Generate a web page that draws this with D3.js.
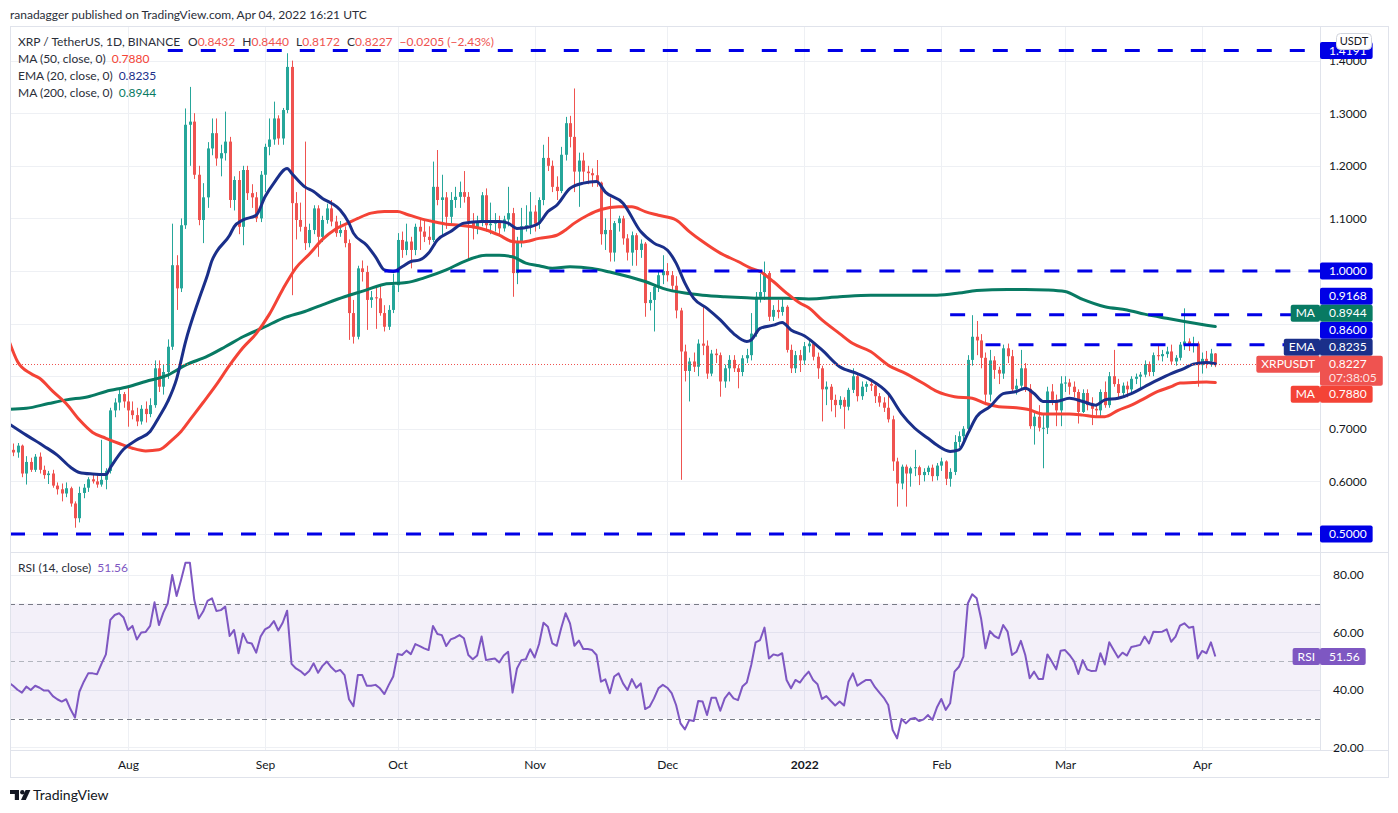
<!DOCTYPE html>
<html>
<head>
<meta charset="utf-8">
<script src="https://cdn.jsdelivr.net/npm/d3@7"></script>
<style>
  html, body { margin: 0; padding: 0; background: #ffffff; }
  svg text { font-family: Lato, "Noto Sans", sans-serif; }
</style>
</head>
<body>
<svg id="chart"></svg>
<script>
// XRP / TetherUS, 1D, BINANCE  --  daily candles [open, high, low, close]
var jul21 = [ // Jul 5 - Jul 31
  [0.670,0.682,0.652,0.660],[0.660,0.672,0.648,0.655],[0.655,0.673,0.645,0.668],[0.668,0.670,0.608,0.615],
  [0.615,0.648,0.594,0.637],[0.637,0.645,0.618,0.622],[0.622,0.652,0.618,0.647],[0.647,0.655,0.615,0.622],
  [0.622,0.630,0.605,0.612],[0.612,0.620,0.595,0.615],[0.615,0.622,0.588,0.592],[0.592,0.598,0.575,0.585],
  [0.585,0.596,0.562,0.577],[0.577,0.598,0.570,0.587],[0.587,0.590,0.552,0.558],[0.558,0.562,0.512,0.530],
  [0.530,0.590,0.522,0.578],[0.578,0.595,0.568,0.588],[0.588,0.608,0.580,0.604],[0.604,0.615,0.596,0.600],
  [0.600,0.612,0.588,0.594],[0.594,0.679,0.590,0.603],[0.603,0.625,0.585,0.620],[0.620,0.740,0.615,0.735],
  [0.735,0.758,0.722,0.750],[0.750,0.778,0.735,0.766],[0.766,0.770,0.740,0.752]
];
var aug21 = [
  [0.752,0.780,0.704,0.735],[0.735,0.752,0.718,0.726],[0.726,0.740,0.705,0.714],[0.714,0.745,0.708,0.738],
  [0.738,0.752,0.712,0.728],[0.728,0.758,0.722,0.745],[0.745,0.830,0.740,0.815],[0.815,0.830,0.770,0.780],
  [0.780,0.822,0.765,0.808],[0.808,0.870,0.795,0.856],[0.856,1.090,0.850,1.011],[1.011,1.030,0.926,0.967],
  [0.967,1.100,0.960,1.087],[1.087,1.309,1.080,1.278],[1.278,1.350,1.200,1.284],[1.284,1.300,1.175,1.183],
  [1.183,1.200,1.087,1.097],[1.097,1.167,1.053,1.140],[1.140,1.245,1.120,1.233],[1.233,1.290,1.220,1.262],
  [1.262,1.290,1.200,1.214],[1.214,1.240,1.180,1.224],[1.224,1.303,1.210,1.246],[1.246,1.255,1.120,1.135],
  [1.135,1.180,1.115,1.173],[1.173,1.190,1.070,1.084],[1.084,1.200,1.049,1.192],[1.192,1.200,1.135,1.148],
  [1.148,1.165,1.120,1.140],[1.140,1.150,1.093,1.100],[1.100,1.190,1.093,1.183]
];
var sep21 = [
  [1.183,1.242,1.150,1.236],[1.236,1.290,1.220,1.250],[1.250,1.322,1.240,1.290],[1.290,1.296,1.240,1.252],
  [1.252,1.310,1.240,1.306],[1.306,1.414,1.300,1.388],[1.388,1.400,0.954,1.129],[1.129,1.150,1.060,1.097],
  [1.097,1.130,1.075,1.084],[1.084,1.246,1.040,1.053],[1.053,1.090,1.045,1.078],[1.078,1.125,1.070,1.119],
  [1.119,1.125,1.027,1.065],[1.065,1.105,1.055,1.097],[1.097,1.128,1.090,1.119],[1.119,1.135,1.085,1.094],
  [1.094,1.105,1.065,1.072],[1.072,1.095,1.065,1.078],[1.078,1.085,1.045,1.053],[1.053,1.060,0.869,0.920],
  [0.920,0.945,0.862,0.875],[0.875,1.010,0.870,1.005],[1.005,1.020,0.980,0.998],[0.998,1.010,0.888,0.945],
  [0.945,0.962,0.930,0.950],[0.950,0.970,0.890,0.948],[0.948,0.975,0.915,0.920],[0.920,0.935,0.885,0.894],
  [0.894,0.935,0.888,0.926],[0.926,0.995,0.920,0.973]
];
var oct21 = [
  [0.973,1.072,0.960,1.059],[1.059,1.075,1.025,1.040],[1.040,1.090,1.030,1.056],[1.056,1.065,1.005,1.040],
  [1.040,1.090,1.030,1.084],[1.084,1.100,1.040,1.075],[1.075,1.095,1.055,1.065],[1.065,1.085,1.050,1.059],
  [1.059,1.208,1.055,1.160],[1.160,1.230,1.125,1.135],[1.135,1.183,1.065,1.140],[1.140,1.150,1.080,1.103],
  [1.103,1.150,1.090,1.135],[1.135,1.160,1.120,1.141],[1.141,1.170,1.120,1.150],[1.150,1.190,1.130,1.141],
  [1.141,1.150,1.021,1.094],[1.094,1.110,1.060,1.081],[1.081,1.105,1.070,1.094],[1.094,1.150,1.085,1.144],
  [1.144,1.157,1.075,1.087],[1.087,1.130,1.070,1.090],[1.090,1.110,1.075,1.092],[1.092,1.105,1.070,1.081],
  [1.081,1.105,1.075,1.098],[1.098,1.160,1.085,1.110],[1.110,1.120,0.951,0.996],[0.996,1.065,0.975,1.056],
  [1.056,1.120,1.045,1.085],[1.085,1.125,1.075,1.087],[1.087,1.150,1.070,1.113]
];
var nov21 = [
  [1.113,1.125,1.075,1.090],[1.090,1.140,1.080,1.135],[1.135,1.240,1.125,1.215],[1.215,1.255,1.190,1.200],
  [1.200,1.210,1.150,1.160],[1.160,1.180,1.135,1.152],[1.152,1.236,1.148,1.221],[1.221,1.293,1.210,1.281],
  [1.281,1.295,1.235,1.255],[1.255,1.347,1.150,1.189],[1.189,1.225,1.122,1.210],[1.210,1.225,1.170,1.189],
  [1.189,1.200,1.165,1.186],[1.186,1.195,1.160,1.182],[1.182,1.211,1.160,1.168],[1.168,1.170,1.050,1.070],
  [1.070,1.100,1.040,1.078],[1.078,1.140,1.018,1.035],[1.035,1.095,1.018,1.091],[1.091,1.105,1.075,1.100],
  [1.100,1.105,1.050,1.062],[1.062,1.070,1.020,1.035],[1.035,1.075,1.010,1.068],[1.068,1.072,1.010,1.040],
  [1.040,1.060,1.025,1.052],[1.052,1.055,0.913,0.939],[0.939,0.960,0.925,0.945],[0.945,0.975,0.885,0.970],
  [0.970,1.000,0.960,0.992],[0.992,1.030,0.975,1.000]
];
var dec21 = [
  [1.000,1.015,0.980,0.992],[0.992,1.000,0.960,0.972],[0.972,0.990,0.910,0.925],[0.925,0.930,0.603,0.847],
  [0.847,0.860,0.790,0.810],[0.810,0.835,0.752,0.828],[0.828,0.845,0.808,0.818],[0.818,0.870,0.800,0.862],
  [0.862,0.935,0.840,0.858],[0.858,0.868,0.795,0.805],[0.805,0.850,0.800,0.843],[0.843,0.852,0.825,0.840],
  [0.840,0.845,0.761,0.790],[0.790,0.822,0.778,0.815],[0.815,0.840,0.790,0.831],[0.831,0.840,0.808,0.815],
  [0.815,0.822,0.777,0.808],[0.808,0.840,0.800,0.834],[0.834,0.852,0.825,0.840],[0.840,0.920,0.830,0.881],
  [0.881,0.960,0.875,0.951],[0.951,0.995,0.940,0.960],[0.960,1.018,0.945,0.996],[0.996,1.000,0.905,0.913],
  [0.913,0.935,0.905,0.926],[0.926,0.945,0.910,0.922],[0.922,0.950,0.915,0.932],[0.932,0.935,0.845,0.850],
  [0.850,0.860,0.806,0.815],[0.815,0.848,0.806,0.840],[0.840,0.850,0.808,0.830]
];
var jan22 = [
  [0.830,0.865,0.822,0.857],[0.857,0.872,0.845,0.862],[0.862,0.866,0.830,0.837],[0.837,0.845,0.795,0.815],
  [0.815,0.820,0.714,0.775],[0.775,0.790,0.745,0.780],[0.780,0.785,0.733,0.755],[0.755,0.765,0.722,0.745],
  [0.745,0.762,0.738,0.755],[0.755,0.760,0.700,0.742],[0.742,0.778,0.735,0.774],[0.774,0.815,0.768,0.800],
  [0.800,0.805,0.752,0.762],[0.762,0.790,0.755,0.780],[0.780,0.790,0.770,0.785],[0.785,0.792,0.772,0.782],
  [0.782,0.785,0.749,0.762],[0.762,0.768,0.742,0.750],[0.750,0.760,0.732,0.740],[0.740,0.770,0.712,0.718],
  [0.718,0.725,0.620,0.638],[0.638,0.645,0.552,0.596],[0.596,0.632,0.585,0.628],[0.628,0.632,0.552,0.615],
  [0.615,0.628,0.590,0.625],[0.625,0.660,0.610,0.627],[0.627,0.630,0.593,0.612],[0.612,0.625,0.600,0.618],
  [0.618,0.630,0.612,0.626],[0.626,0.632,0.600,0.610],[0.610,0.635,0.602,0.630]
];
var feb22 = [
  [0.630,0.645,0.620,0.638],[0.638,0.640,0.593,0.605],[0.605,0.625,0.590,0.618],[0.618,0.688,0.612,0.675],
  [0.675,0.695,0.665,0.686],[0.686,0.705,0.675,0.700],[0.700,0.840,0.695,0.831],[0.831,0.916,0.820,0.875],
  [0.875,0.905,0.840,0.868],[0.868,0.880,0.815,0.835],[0.835,0.845,0.745,0.765],[0.765,0.850,0.752,0.830],
  [0.830,0.838,0.795,0.812],[0.812,0.818,0.785,0.805],[0.805,0.860,0.795,0.853],[0.853,0.862,0.825,0.838],
  [0.838,0.850,0.770,0.775],[0.775,0.795,0.765,0.782],[0.782,0.850,0.775,0.815],[0.815,0.825,0.770,0.776],
  [0.776,0.785,0.700,0.705],[0.705,0.730,0.670,0.723],[0.723,0.745,0.695,0.702],[0.702,0.730,0.625,0.702],
  [0.702,0.780,0.690,0.771],[0.771,0.785,0.745,0.755],[0.755,0.765,0.705,0.735],[0.735,0.800,0.705,0.786]
];
var mar22 = [
  [0.786,0.800,0.770,0.788],[0.788,0.795,0.765,0.780],[0.780,0.790,0.760,0.770],[0.770,0.775,0.710,0.732],
  [0.732,0.775,0.730,0.768],[0.768,0.775,0.735,0.745],[0.745,0.760,0.707,0.738],[0.738,0.748,0.725,0.735],
  [0.735,0.775,0.723,0.770],[0.770,0.790,0.740,0.745],[0.745,0.808,0.740,0.800],[0.800,0.850,0.780,0.785],
  [0.785,0.795,0.760,0.768],[0.768,0.788,0.760,0.782],[0.782,0.790,0.760,0.775],[0.775,0.800,0.765,0.795],
  [0.795,0.805,0.785,0.799],[0.799,0.808,0.775,0.803],[0.803,0.830,0.798,0.823],[0.823,0.828,0.800,0.808],
  [0.808,0.845,0.800,0.840],[0.840,0.858,0.830,0.838],[0.838,0.850,0.828,0.842],[0.842,0.856,0.835,0.847],
  [0.847,0.860,0.823,0.828],[0.828,0.840,0.820,0.835],[0.835,0.865,0.830,0.860],[0.860,0.929,0.850,0.866],
  [0.866,0.872,0.848,0.860],[0.860,0.875,0.845,0.862],[0.862,0.866,0.780,0.821]
];
var apr22 = [
  [0.821,0.845,0.805,0.833],[0.833,0.848,0.815,0.828],[0.828,0.852,0.818,0.8432],[0.8432,0.8440,0.8172,0.8227]
];

// RSI (14, close), one value per candle
var rsi14 = [
  42.5,41.4,40.0,39.0,41.1,39.9,41.4,40.7,39.7,39.7,37.8,36.7,35.9,36.7,33.2,30.3,39.3,42.8,45.7,45.7,
  45.4,49.0,52.3,64.3,66.0,66.6,65.1,
  60.8,62.2,57.5,59.9,60.1,62.2,70.4,62.5,66.8,70.1,79.9,72.6,78.2,84.2,84.2,71.2,64.8,67.2,70.9,71.8,
  67.4,67.7,68.9,58.7,60.8,52.7,59.6,56.4,56.1,52.9,58.5,
  61.0,61.9,63.9,60.6,63.3,67.5,49.0,47.4,46.5,45.1,46.5,49.2,45.9,48.3,49.8,47.8,46.3,46.9,45.1,36.7,
  34.3,45.1,45.1,41.4,41.4,41.7,40.5,38.5,41.7,44.6,
  52.4,52.1,53.6,52.4,55.9,55.2,54.4,53.8,62.2,59.4,59.0,55.2,57.5,58.1,59.0,57.9,52.1,50.6,51.9,58.5,
  50.3,50.6,50.9,49.5,51.9,53.2,39.0,47.4,50.3,50.6,54.1,
  51.2,55.9,63.3,61.9,56.1,55.3,61.4,66.6,63.1,55.3,57.1,54.2,54.2,53.8,52.1,42.8,43.6,38.8,44.6,45.7,
  42.2,39.9,43.7,40.7,42.2,33.3,34.1,37.0,40.5,41.7,
  40.7,38.8,34.7,28.3,26.2,29.5,29.1,36.1,35.9,31.2,37.2,37.2,32.7,37.0,39.0,37.0,36.4,41.1,42.5,48.6,
  56.5,57.3,61.6,50.9,52.3,51.9,52.7,43.4,40.5,43.4,42.5,
  44.6,46.3,43.4,41.9,36.8,37.8,36.1,34.5,35.9,34.5,42.8,45.7,41.4,42.5,43.4,43.4,40.9,39.0,37.2,34.7,
  26.0,23.1,29.8,28.3,29.8,30.2,29.1,29.7,31.2,29.5,33.8,
  36.8,33.0,35.3,46.3,48.0,51.5,70.0,73.2,71.8,64.8,54.4,60.4,58.7,57.9,62.5,60.2,52.1,53.2,57.0,52.1,
  44.0,46.3,43.7,43.7,52.3,49.8,47.1,53.6,
  53.8,52.1,50.0,45.5,50.3,47.1,46.5,46.6,52.7,48.8,56.5,53.8,51.2,52.9,51.9,54.9,55.2,55.6,58.5,56.1,
  60.2,60.1,60.2,61.0,56.7,58.5,62.3,63.1,61.6,61.9,50.9,
  53.5,52.7,56.5,51.56
];

// moving averages: [candle index, value]
var ema20 = [[0,0.710],[4,0.688],[8,0.667],[11,0.650],[14,0.627],[16,0.617],[19,0.614],[22,0.613],[23,0.626],
  [26,0.661],[29,0.679],[32,0.695],[34,0.722],[36,0.752],[38,0.795],[40,0.865],[43,0.945],[45,0.993],[46,1.020],
  [47,1.036],[50,1.068],[51,1.084],[53,1.097],[56,1.106],[58,1.141],[60,1.167],[63,1.195],[64,1.186],[67,1.160],
  [69,1.151],[71,1.138],[73,1.129],[75,1.116],[77,1.091],[78,1.072],[81,1.049],[83,1.027],[85,1.002],[87,0.999],
  [89,1.008],[91,1.018],[93,1.021],[95,1.034],[97,1.059],[100,1.075],[103,1.091],[107,1.094],[111,1.094],
  [113,1.091],[115,1.081],[118,1.084],[120,1.091],[122,1.113],[124,1.125],[127,1.157],[130,1.167],[133,1.170],
  [135,1.150],[139,1.129],[143,1.075],[146,1.053],[149,1.040],[151,1.015],[153,0.977],[155,0.948],[158,0.929],
  [161,0.907],[164,0.881],[167,0.866],[168,0.869],[170,0.891],[173,0.897],[175,0.902],[177,0.888],[180,0.877],
  [184,0.850],[188,0.818],[192,0.805],[195,0.793],[199,0.767],[202,0.729],[205,0.701],[208,0.682],[210,0.669],
  [213,0.657],[215,0.660],[217,0.691],[219,0.723],[222,0.742],[225,0.767],[228,0.771],[230,0.777],[232,0.767],
  [234,0.752],[237,0.752],[240,0.758],[243,0.752],[246,0.745],[248,0.755],[251,0.758],[254,0.767],[257,0.780],
  [260,0.793],[263,0.805],[266,0.815],[268,0.823],[271,0.826],[273,0.8235]];
var ma50 = [[0,0.869],[2,0.828],[5,0.805],[7,0.796],[10,0.771],[13,0.748],[16,0.717],[19,0.693],[22,0.682],
  [25,0.672],[28,0.663],[31,0.658],[34,0.660],[37,0.679],[39,0.695],[41,0.717],[44,0.750],[47,0.784],[50,0.821],
  [53,0.854],[56,0.881],[59,0.918],[62,0.965],[65,1.006],[68,1.032],[71,1.060],[74,1.080],[77,1.092],[79,1.100],
  [82,1.110],[85,1.113],[88,1.113],[90,1.108],[93,1.100],[96,1.094],[99,1.089],[102,1.087],[105,1.084],
  [108,1.078],[111,1.068],[114,1.056],[116,1.055],[120,1.062],[124,1.068],[126,1.078],[128,1.091],[131,1.106],
  [134,1.117],[138,1.122],[141,1.122],[144,1.113],[147,1.106],[151,1.097],[154,1.075],[157,1.056],[161,1.034],
  [165,1.018],[168,1.005],[170,0.999],[173,0.980],[176,0.958],[179,0.939],[181,0.930],[184,0.907],[188,0.881],
  [191,0.862],[195,0.847],[199,0.821],[203,0.805],[207,0.786],[210,0.771],[214,0.761],[218,0.758],[221,0.748],
  [224,0.742],[228,0.740],[231,0.736],[234,0.728],[237,0.728],[240,0.728],[243,0.726],[246,0.723],[248,0.723],
  [251,0.735],[254,0.745],[257,0.758],[260,0.771],[263,0.780],[265,0.787],[268,0.788],[271,0.789],[273,0.7880]];
var ma200 = [[0,0.737],[4,0.739],[9,0.748],[13,0.755],[18,0.761],[22,0.771],[27,0.780],[31,0.790],[36,0.802],
  [40,0.821],[45,0.838],[49,0.856],[53,0.875],[58,0.894],[62,0.910],[67,0.923],[72,0.939],[76,0.951],[81,0.964],
  [85,0.975],[90,0.978],[94,0.987],[99,1.002],[103,1.018],[108,1.030],[111,1.030],[114,1.027],[117,1.015],
  [120,1.010],[123,1.005],[127,1.008],[132,1.005],[136,0.998],[139,0.992],[144,0.980],[148,0.967],[153,0.958],
  [157,0.954],[162,0.951],[167,0.949],[171,0.948],[176,0.948],[181,0.947],[188,0.951],[195,0.954],[203,0.954],
  [210,0.954],[215,0.958],[219,0.963],[226,0.965],[230,0.965],[235,0.964],[239,0.961],[243,0.946],[248,0.932],
  [253,0.926],[257,0.918],[262,0.910],[266,0.904],[271,0.897],[273,0.8944]];

// horizontal levels drawn by the author
var levelValues = [1.4191, 1.0000, 0.9168, 0.8600, 0.5000];
var levelStarts = ["2021-08-10", "2021-09-28", "2022-02-03", "2022-02-11", "2021-07-05"];

var monthTicks = ["2021-08-01","2021-09-01","2021-10-01","2021-11-01","2021-12-01","2022-01-01","2022-02-01","2022-03-01","2022-04-01"];
var monthNames = ["Aug","Sep","Oct","Nov","Dec","2022","Feb","Mar","Apr"];
var priceTicks = [0.5,0.6,0.7,0.8,0.9,1.0,1.1,1.2,1.3,1.4];
var rsiTicks = [20,40,60,80];

var W = 1398, H = 813;
var plotLeft = 10, plotRight = 1320, plotTop = 27, mainBottom = 552, rsiBottom = 750, frameRight = 1388, frameBottom = 778;
var upColor = "#26a69a", downColor = "#ef5350";
var ma50Color = "#f44336", emaColor = "#1a2f8a", ma200Color = "#087a63", rsiColor = "#7e57c2", levelColor = "#0000e6";

var DAY = 864e5;
var start = Date.UTC(2021, 6, 5);
var parseDay = d3.utcParse("%Y-%m-%d");
function dateOf(i) { return new Date(start + i * DAY); }

var candles = [].concat(jul21, aug21, sep21, oct21, nov21, dec21, jan22, feb22, mar22, apr22)
  .map(function(r, i) { return {date: dateOf(i), o: r[0], h: r[1], l: r[2], c: r[3]}; });

var x = d3.scaleUtc()
  .domain([new Date(Date.UTC(2021,6,5,7,16)), new Date(Date.UTC(2022,3,27,16,20))])
  .range([plotLeft, plotRight]);
var y = d3.scaleLinear().domain([0.5, 1.0]).range([534, 271]);
var yR = d3.scaleLinear().domain([30, 70]).range([718.5, 603.5]);

var svg = d3.select("#chart").attr("width", W).attr("height", H)
  .style("display", "block").style("background", "#fff");

svg.append("text").attr("x", 10).attr("y", 19).attr("font-size", 12).attr("fill", "#2a2e39")
  .text("ranadagger published on TradingView.com, Apr 04, 2022 16:21 UTC");

var defs = svg.append("defs");
defs.append("clipPath").attr("id", "clipMain").append("rect")
  .attr("x", plotLeft).attr("y", plotTop).attr("width", plotRight - plotLeft).attr("height", mainBottom - plotTop);
defs.append("clipPath").attr("id", "clipRsi").append("rect")
  .attr("x", plotLeft).attr("y", mainBottom).attr("width", plotRight - plotLeft).attr("height", rsiBottom - mainBottom);

// grid
var grid = svg.append("g").attr("stroke", "#eef0f4").attr("stroke-width", 1);
grid.selectAll(".vg").data(monthTicks).enter().append("line")
  .attr("x1", function(d) { return Math.round(x(parseDay(d))) + 0.5; })
  .attr("x2", function(d) { return Math.round(x(parseDay(d))) + 0.5; })
  .attr("y1", plotTop).attr("y2", rsiBottom);
grid.selectAll(".hg").data(priceTicks).enter().append("line")
  .attr("x1", plotLeft).attr("x2", plotRight)
  .attr("y1", function(d) { return Math.round(y(d)) + 0.5; })
  .attr("y2", function(d) { return Math.round(y(d)) + 0.5; });
grid.selectAll(".rg").data(rsiTicks).enter().append("line")
  .attr("x1", plotLeft).attr("x2", plotRight)
  .attr("y1", function(d) { return Math.round(yR(d)) + 0.5; })
  .attr("y2", function(d) { return Math.round(yR(d)) + 0.5; });

// main pane
var main = svg.append("g").attr("clip-path", "url(#clipMain)");

var candle = main.append("g").selectAll("g").data(candles).enter().append("g")
  .attr("fill", function(d) { return d.c >= d.o ? upColor : downColor; })
  .attr("stroke", function(d) { return d.c >= d.o ? upColor : downColor; });
candle.append("line")
  .attr("x1", function(d) { return Math.round(x(d.date)) + 0.5; })
  .attr("x2", function(d) { return Math.round(x(d.date)) + 0.5; })
  .attr("y1", function(d) { return y(d.h); })
  .attr("y2", function(d) { return y(d.l); })
  .attr("stroke-width", 1);
candle.append("rect")
  .attr("stroke", "none")
  .attr("x", function(d) { return Math.round(x(d.date)) - 1; })
  .attr("width", 3)
  .attr("y", function(d) { return y(Math.max(d.o, d.c)); })
  .attr("height", function(d) { return Math.max(1, Math.abs(y(d.o) - y(d.c))); });

var maLine = d3.line()
  .x(function(d) { return x(dateOf(d[0])); })
  .y(function(d) { return y(d[1]); })
  .curve(d3.curveMonotoneX);
[[ma200, ma200Color], [ma50, ma50Color], [ema20, emaColor]].forEach(function(s) {
  main.append("path").datum(s[0]).attr("d", maLine)
    .attr("fill", "none").attr("stroke", s[1]).attr("stroke-width", 3)
    .attr("stroke-linejoin", "round").attr("stroke-linecap", "round");
});

var lastClose = candles[candles.length - 1].c;
main.append("line").attr("x1", plotLeft).attr("x2", plotRight)
  .attr("y1", Math.round(y(lastClose)) + 0.5).attr("y2", Math.round(y(lastClose)) + 0.5)
  .attr("stroke", downColor).attr("stroke-width", 1).attr("stroke-dasharray", "1,2");

main.selectAll(".lvl").data(levelValues).enter().append("line")
  .attr("x1", function(d, i) { return Math.max(plotLeft, x(parseDay(levelStarts[i]))); })
  .attr("x2", plotRight)
  .attr("y1", function(d) { return y(d); }).attr("y2", function(d) { return y(d); })
  .attr("stroke", levelColor).attr("stroke-width", 3).attr("stroke-dasharray", "15,18");

// legend
var legend = svg.append("g").attr("font-size", 12).attr("fill", "#2a2e39");
var l1 = legend.append("text").attr("x", 18).attr("y", 46);
var last = candles[candles.length - 1], prev = candles[candles.length - 2];
var chg = last.c - prev.c;
l1.append("tspan").text("XRP / TetherUS, 1D, BINANCE");
[["O", last.o], ["H", last.h], ["L", last.l], ["C", last.c]].forEach(function(p, i) {
  l1.append("tspan").attr("dx", i === 0 ? 8 : 7).text(p[0]);
  l1.append("tspan").attr("fill", downColor).text(d3.format(".4f")(p[1]));
});
l1.append("tspan").attr("dx", 7).attr("fill", downColor)
  .text("\u2212" + d3.format(".4f")(Math.abs(chg)) + " (\u2212" + d3.format(".2f")(Math.abs(chg / prev.c * 100)) + "%)");
[["MA (50, close, 0)", ma50, ma50Color], ["EMA (20, close, 0)", ema20, emaColor], ["MA (200, close, 0)", ma200, ma200Color]]
  .forEach(function(s, i) {
    var t = legend.append("text").attr("x", 18).attr("y", 63 + i * 17);
    t.append("tspan").text(s[0]);
    t.append("tspan").attr("dx", 6).attr("fill", s[2]).text(d3.format(".4f")(s[1][s[1].length - 1][1]));
  });

// RSI pane
var rsiG = svg.append("g").attr("clip-path", "url(#clipRsi)");
rsiG.append("rect").attr("x", plotLeft).attr("width", plotRight - plotLeft)
  .attr("y", yR(70)).attr("height", yR(30) - yR(70)).attr("fill", "rgba(126,87,194,0.09)");
[[70, "#787b86"], [50, "#b2b5be"], [30, "#787b86"]].forEach(function(b) {
  rsiG.append("line").attr("x1", plotLeft).attr("x2", plotRight)
    .attr("y1", Math.round(yR(b[0])) + 0.5).attr("y2", Math.round(yR(b[0])) + 0.5)
    .attr("stroke", b[1]).attr("stroke-width", 1).attr("stroke-dasharray", "5,4");
});
rsiG.append("path").datum(rsi14)
  .attr("d", d3.line().x(function(d, i) { return x(dateOf(i)); }).y(function(d) { return yR(d); }))
  .attr("fill", "none").attr("stroke", rsiColor).attr("stroke-width", 2).attr("stroke-linejoin", "round");
var rl = svg.append("text").attr("x", 18).attr("y", 572).attr("font-size", 12).attr("fill", "#2a2e39");
rl.append("tspan").text("RSI (14, close)");
rl.append("tspan").attr("dx", 6).attr("fill", rsiColor).text(d3.format(".2f")(rsi14[rsi14.length - 1]));

// frame and separators
var frame = svg.append("g").attr("fill", "none").attr("stroke", "#e0e3eb").attr("stroke-width", 1);
frame.append("rect").attr("x", plotLeft + 0.5).attr("y", plotTop - 0.5).attr("width", frameRight - plotLeft).attr("height", frameBottom - plotTop);
frame.append("line").attr("x1", plotLeft).attr("x2", frameRight).attr("y1", mainBottom + 0.5).attr("y2", mainBottom + 0.5);
frame.append("line").attr("x1", plotLeft).attr("x2", frameRight).attr("y1", rsiBottom + 0.5).attr("y2", rsiBottom + 0.5);
frame.append("line").attr("x1", plotRight + 0.5).attr("x2", plotRight + 0.5).attr("y1", plotTop).attr("y2", rsiBottom);

// price scale labels with overlap handling (last price label stays put)
var labels = levelValues.map(function(v) { return {value: v, color: levelColor, text: d3.format(".4f")(v)}; });
labels.push({value: ma200[ma200.length - 1][1], color: ma200Color, text: d3.format(".4f")(ma200[ma200.length - 1][1]), tag: "MA"});
labels.push({value: ema20[ema20.length - 1][1], color: emaColor, text: d3.format(".4f")(ema20[ema20.length - 1][1]), tag: "EMA"});
labels.push({value: ma50[ma50.length - 1][1], color: ma50Color, text: d3.format(".4f")(ma50[ma50.length - 1][1]), tag: "MA"});
var priceLabel = {value: lastClose, color: downColor, text: d3.format(".4f")(lastClose), tag: "XRPUSDT", sub: "07:38:05"};

var lh = 17;
priceLabel.cy = y(priceLabel.value);
var pTop = priceLabel.cy - lh / 2, pBottom = pTop + 30;
var above = labels.filter(function(l) { return y(l.value) <= priceLabel.cy; })
  .sort(function(a, b) { return y(b.value) - y(a.value); });
var below = labels.filter(function(l) { return y(l.value) > priceLabel.cy; })
  .sort(function(a, b) { return y(a.value) - y(b.value); });
var cur = pTop;
above.forEach(function(l) { l.cy = Math.min(y(l.value), cur - lh / 2); cur = l.cy - lh / 2; });
cur = pBottom;
below.forEach(function(l) { l.cy = Math.max(y(l.value), cur + lh / 2); cur = l.cy + lh / 2; });

// axes (tick labels dropped where their centre sits under a scale label box)
var boxes = labels.map(function(l) { return [l.cy - lh / 2, l.cy + lh / 2]; }).concat([[pTop, pBottom]]);
var freeTicks = priceTicks.filter(function(v) {
  return boxes.every(function(b) { return y(v) < b[0] - 1 || y(v) > b[1] + 1; });
});
var priceAxis = svg.append("g").attr("transform", "translate(" + plotRight + ",0)")
  .call(d3.axisRight(y).tickValues(freeTicks).tickFormat(d3.format(".4f")).tickSize(0).tickPadding(9));
var rsiAxis = svg.append("g").attr("transform", "translate(" + plotRight + ",0)")
  .call(d3.axisRight(yR).tickValues(rsiTicks).tickFormat(d3.format(".2f")).tickSize(0).tickPadding(13));
var timeAxis = svg.append("g").attr("transform", "translate(0," + rsiBottom + ")")
  .call(d3.axisBottom(x).tickValues(monthTicks.map(parseDay))
    .tickFormat(function(d, i) { return monthNames[i]; }).tickSize(0).tickPadding(10));
[priceAxis, rsiAxis, timeAxis].forEach(function(a) {
  a.select(".domain").remove();
  a.selectAll("text").attr("font-size", 12).attr("fill", "#131722").style("font-family", "Lato, 'Noto Sans', sans-serif");
});
timeAxis.selectAll("text").filter(function(d, i) { return monthNames[i] === "2022"; }).attr("font-weight", "bold");

var lab = svg.append("g").attr("font-size", 12);
function drawLabel(l, h) {
  var g = lab.append("g");
  var box = g.append("rect").attr("x", plotRight).attr("y", l.cy - lh / 2).attr("height", h).attr("rx", 2).attr("fill", l.color);
  var t = g.append("text").attr("x", plotRight + 9).attr("y", l.cy).attr("dy", "0.35em").attr("fill", "#fff").text(l.text);
  var w = t.node().getComputedTextLength();
  if (l.sub) {
    var s = g.append("text").attr("x", plotRight + 9).attr("y", l.cy + 14).attr("dy", "0.35em")
      .attr("fill", "rgba(255,255,255,0.85)").text(l.sub);
    w = Math.max(w, s.node().getComputedTextLength());
  }
  box.attr("width", w + 15);
  if (l.tag) {
    var tg = g.append("rect").attr("y", l.cy - lh / 2).attr("height", lh).attr("rx", 2).attr("fill", l.color);
    var tt = g.append("text").attr("y", l.cy).attr("dy", "0.35em").attr("fill", "#fff").attr("text-anchor", "middle").text(l.tag);
    var tw = tt.node().getComputedTextLength() + 10;
    tg.attr("x", plotRight - tw).attr("width", tw);
    tt.attr("x", plotRight - tw / 2);
  }
}
labels.forEach(function(l) { drawLabel(l, lh); });
drawLabel(priceLabel, 30);
drawLabel({value: rsi14[rsi14.length - 1], cy: yR(rsi14[rsi14.length - 1]), color: rsiColor,
  text: d3.format(".2f")(rsi14[rsi14.length - 1]), tag: "RSI"}, lh);

// currency badge (sits over the top of the scale, as in the source)
var badge = svg.append("g");
badge.append("rect").attr("x", 1336.5).attr("y", 33.5).attr("width", 35).attr("height", 16).attr("rx", 4)
  .attr("fill", "#fff").attr("stroke", "#d1d4dc");
badge.append("text").attr("x", 1354).attr("y", 41.5).attr("dy", "0.35em").attr("text-anchor", "middle")
  .attr("font-size", 11).attr("fill", "#131722").text("USDT");

// footer logo
var logo = svg.append("g").attr("fill", "#131722");
logo.append("path").attr("d", "M10,790 h9 v10 h-4.2 v-6 h-4.8 z");
logo.append("circle").attr("cx", 22.3).attr("cy", 792.2).attr("r", 2.2);
logo.append("path").attr("d", "M25.6,790 h4.8 l-4.6,10 h-4.8 z");
svg.append("text").attr("x", 33).attr("y", 800).attr("font-size", 14).attr("fill", "#131722").text("TradingView");
</script>
</body>
</html>
